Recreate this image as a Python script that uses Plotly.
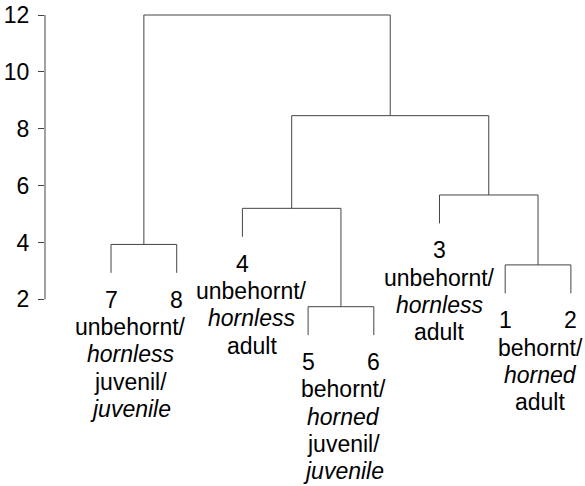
import plotly.graph_objects as go

# ---- data ----
leaf_labels = ["7", "8", "4", "5", "6", "3", "1", "2"]   # leaves in display order
# merges: (child_a, child_b, height); ids 0..7 = leaves, 8.. = earlier merges
merge_a = [0, 3, 6, 2, 5, 11, 8]
merge_b = [1, 4, 7, 9, 10, 12, 13]
merge_h = [3.93, 1.74, 3.21, 5.20, 5.67, 8.46, 12.0]
hang = 1.0

group_leaves = [[0, 1], [2], [3, 4], [5], [6, 7]]
group_x = [1.30, 3.14, 4.54, 6.0, 7.53]
group_lines = [
    ["unbehornt/", "<i>hornless</i>", "juvenil/", "<i>juvenile</i>"],
    ["unbehornt/", "<i>hornless</i>", "adult"],
    ["behornt/", "<i>horned</i>", "juvenil/", "<i>juvenile</i>"],
    ["unbehornt/", "<i>hornless</i>", "adult"],
    ["behornt/", "<i>horned</i>", "adult"],
]
y_ticks = [2, 4, 6, 8, 10, 12]

# ---- build dendrogram geometry ----
n = len(leaf_labels)
node_x = {i: i + 1 for i in range(n)}
node_h = {}
leaf_end = {}
for k, (a, b, h) in enumerate(zip(merge_a, merge_b, merge_h)):
    nid = n + k
    node_x[nid] = (node_x[a] + node_x[b]) / 2
    node_h[nid] = h
    for c in (a, b):
        if c < n:
            leaf_end[c] = h - hang

xs, ys = [], []
for k, (a, b, h) in enumerate(zip(merge_a, merge_b, merge_h)):
    xs += [node_x[a], node_x[b], None]
    ys += [h, h, None]
    for c in (a, b):
        bottom = node_h[c] if c >= n else leaf_end[c]
        xs += [node_x[c], node_x[c], None]
        ys += [h, bottom, None]

LINE = "#444444"
FONT = "Arial, Liberation Sans, sans-serif"
FS = 23

fig = go.Figure()
fig.add_trace(go.Scatter(x=xs, y=ys, mode="lines",
                         line=dict(color=LINE, width=1),
                         hoverinfo="skip", showlegend=False))

annotations = []
for i, lab in enumerate(leaf_labels):
    annotations.append(dict(x=node_x[i], y=leaf_end[i], xref="x", yref="y",
                            text=lab, showarrow=False, yanchor="top",
                            yshift=-12, font=dict(family=FONT, size=FS, color="black")))
STEP = 27.3
for gl, gx, lines in zip(group_leaves, group_x, group_lines):
    yb = leaf_end[gl[0]]
    for k, t in enumerate(lines):
        annotations.append(dict(x=gx, y=yb, xref="x", yref="y", text=t,
                                showarrow=False, yanchor="top",
                                yshift=-12 - STEP * (k + 1),
                                font=dict(family=FONT, size=FS, color="black")))

fig.add_shape(type="line", xref="paper", yref="y", x0=0, x1=0,
              y0=min(y_ticks), y1=max(y_ticks),
              line=dict(color=LINE, width=1))

fig.update_layout(
    width=585, height=486,
    margin=dict(l=45, r=0, t=0, b=0, autoexpand=False),
    paper_bgcolor="white", plot_bgcolor="white",
    annotations=annotations,
    xaxis=dict(range=[-0.005, 8.215], visible=False, fixedrange=True,
               automargin=False),
    yaxis=dict(range=[-4.567, 12.528], tickvals=y_ticks, ticks="outside",
               ticklen=6, tickcolor=LINE, tickwidth=1, showline=False,
               showgrid=False, zeroline=False, ticklabelstandoff=4,
               automargin=False, fixedrange=True,
               tickfont=dict(family=FONT, size=FS, color="black")),
    showlegend=False,
)

fig.write_html("out.html", config={"displayModeBar": False},
               post_script="document.body.style.margin='0';document.body.style.overflow='hidden';")
